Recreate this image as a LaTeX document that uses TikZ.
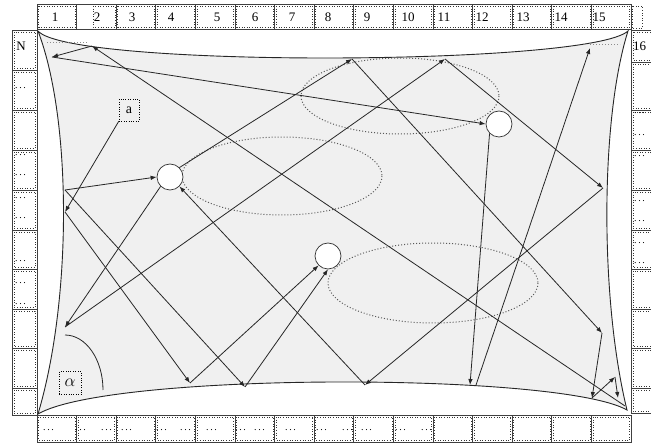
\documentclass[tikz,border=0pt]{standalone}
\usepackage{fontspec}
\setmainfont{Liberation Serif}
\usetikzlibrary{arrows.meta}
\newcommand\tripledots{.\hspace{1.6pt}.\hspace{1.6pt}.}

\begin{document}
\begin{tikzpicture}[x=1pt,y=-1pt,
  cellbox/.style={draw=black!75, line width=0.8pt},
  inbox/.style={draw=black!80, dotted, line width=0.6pt},
  lbl/.style={font=\fontsize{13}{13}\selectfont, inner sep=0pt},
  dotlbl/.style={font=\fontsize{10}{10}\selectfont, inner sep=0pt, anchor=west},
  ray/.style={draw=black!85, line width=0.8pt, -{Latex[length=6pt,width=4.5pt]}},
  hole/.style={circle, draw=black!80, fill=white, minimum size=26pt, inner sep=0pt, line width=0.7pt},
  zone/.style={draw=black!65, dotted, line width=1pt},
  rim/.style={draw=black!85, line width=0.9pt}]

\useasboundingbox (0,0) rectangle (651,443);

% ---- top and bottom rows of cells ----
\foreach \i in {1,...,15} {
  \pgfmathsetmacro\xa{37+39.6*(\i-1)}
  \pgfmathsetmacro\xb{\xa+39.6}
  \draw[cellbox] (\xa,4) rectangle (\xb,29);
  \draw[cellbox] (\xa,415) rectangle (\xb,442);
  \draw[inbox] (\xa+1.5,417) rectangle (\xb-1.5,440);
}
\foreach \i in {1,3,4,5,6,7,8,9,10,11,12,13,14,15} {
  \pgfmathsetmacro\xa{37+39.6*(\i-1)}
  \pgfmathsetmacro\xb{\xa+39.6}
  \draw[inbox] (\xa+1.5,6) rectangle (\xb-1.5,27);
}
\draw[inbox] (93,6) rectangle (115,27);
\draw[inbox] (632,6) rectangle (642,28);

\foreach \i/\lx in {1/55,2/97,3/132,4/171,5/217,6/255,7/292,8/328,9/367,10/408,11/444,12/482,13/523,14/561,15/599}
  \node[lbl] (t\i) at (\lx,17) {\i};

% ---- left column ----
\foreach \ya/\yb in {30/70,70/110,110/150,150/190,190/230,230/269,269/309,309/348,348/388,388/415} {
  \draw[cellbox] (12,\ya) rectangle (37,\yb);
  \draw[inbox] (14,\ya+2) rectangle (35,\yb-2);
}
\node[lbl] (rowN) at (21,46) {N};
\foreach \k/\yy in {1/88,2/155,3/175,4/198,5/218,6/261,7/283,8/304}
  \node[dotlbl] (ld\k) at (15,\yy) {\tripledots};

% ---- right column ----
\foreach \ya/\yb in {30/62,62/110,110/150,150/190,190/230,230/269,269/309,309/348,348/388,388/413} {
  \draw[cellbox] (631,\ya) rectangle (656,\yb);
  \draw[inbox] (633,\ya+2) rectangle (654,\yb-2);
}
\node[lbl, anchor=west] (row16) at (633,46) {16};
\foreach \k/\yy in {1/113,2/135,3/156,4/201,5/221,6/243,7/263}
  \node[dotlbl] (rd\k) at (634,\yy) {\tripledots};

% ---- bottom row marks ----
\foreach \k/\xx in {1/43,2/75,3/101,4/121,5/156,6/180,7/206,8/235,9/254,10/285,11/316,12/342,13/361,14/395,15/421} {
  \node[dotlbl] (bd\k) at (\xx,430) {\tripledots};
}

% ---- table with curved rims ----
\path[fill=black!6] (38,31) .. controls (70,68) and (590,66) .. (628,31)
  .. controls (600,120) and (600,300) .. (627,410)
  .. controls (560,372) and (110,372) .. (38,414)
  .. controls (72,300) and (72,120) .. (38,31) -- cycle;
\draw[rim] (38,31) .. controls (70,68) and (590,66) .. (628,31)
  .. controls (600,120) and (600,300) .. (627,410)
  .. controls (560,372) and (110,372) .. (38,414)
  .. controls (72,300) and (72,120) .. (38,31);
\draw[zone, black!45] (47,43) -- (88,43);
\draw[zone, black!45] (590,45) -- (620,45);

% ---- dotted zones ----
\draw[zone] (282,176) ellipse[x radius=100, y radius=39];
\draw[zone] (400,96) ellipse[x radius=99, y radius=38];
\draw[zone] (433,283) ellipse[x radius=105, y radius=40];

% ---- corner angle ----
\draw[rim, line width=0.8pt] (65,335) arc[start angle=270, end angle=360, x radius=38, y radius=55];
\node[lbl, draw=black, dotted, minimum width=22pt, minimum height=23pt, font=\fontsize{16}{16}\selectfont] (ang) at (70,383) {$\alpha$};
\node[lbl, draw=black, dotted, minimum width=20pt, minimum height=22pt, font=\fontsize{14}{14}\selectfont] (lbla) at (129,110) {a};

% ---- holes ----
\node[hole] (c1) at (170,177) {};
\node[hole] (c2) at (328,256) {};
\node[hole] (c3) at (499,124) {};

% ---- bounce points ----
\coordinate (b1) at (92,46);
\coordinate (b2) at (52,57);
\coordinate (b3) at (352,59);
\coordinate (b4) at (445,59);
\coordinate (b5) at (590,48);
\coordinate (b6) at (603,188);
\coordinate (b7) at (602,333);
\coordinate (b8) at (592,398);
\coordinate (b9) at (615,377);
\coordinate (b10) at (618,398);
\coordinate (b11) at (470,385);
\coordinate (b12) at (476,385);
\coordinate (b13) at (365,385);
\coordinate (b14) at (245,387);
\coordinate (b15) at (190,383);
\coordinate (b16) at (65,190);
\coordinate (b17) at (65,212);
\coordinate (b18) at (65,327);
\coordinate (b19) at (625,406);

% ---- rays ----
\draw[ray] (b19) -- (b1);
\draw[ray] (b1) -- (b2);
\draw[ray] (b2) -- (c3.west);
\draw[ray] (c3.south west) -- (b11);
\draw[ray] (b12) -- (b5);
\draw[ray] (b18) -- (b4);
\draw[ray] (b4) -- (b6);
\draw[ray] (b6) -- (b13);
\draw[ray] (b13) -- (c1.south east);
\draw[ray] (b16) -- (c1.west);
\draw[ray] (lbla.south west) -- (b17);
\draw[ray] (c1.south west) -- (b18);
\draw[ray] (c1.north east) -- (b3);
\draw[ray] (b3) -- (b7);
\draw[ray] (b7) -- (b8);
\draw[ray] (b8) -- (b9);
\draw[ray] (b9) -- (b10);
\draw[ray] (b16) -- (b14);
\draw[ray] (b17) -- (b15);
\draw[ray] (b15) -- (c2.south west);
\draw[ray] (b14) -- (c2.south);
\end{tikzpicture}
\end{document}
